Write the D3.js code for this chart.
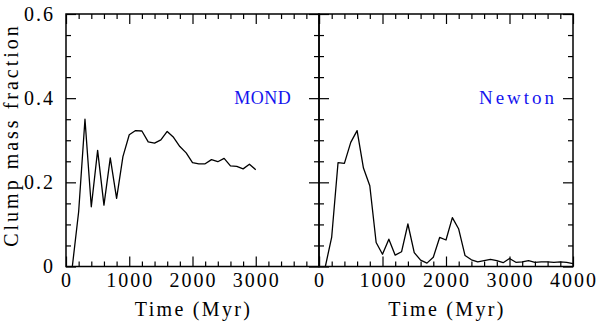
<!DOCTYPE html>
<html>
<head>
<meta charset="utf-8">
<script src="https://cdn.jsdelivr.net/npm/d3@7"></script>
<style>
  body { margin: 0; background: #fff; }
  svg { display: block; }
  text { font-family: "Liberation Serif", serif; }
</style>
</head>
<body>
<script>
// time samples (Myr) and clump mass fraction
const mondTime = [100,200,300,400,500,600,700,800,900,1000,1100,1200,1300,1400,1500,
  1600,1700,1800,1900,2000,2100,2200,2300,2400,2500,2600,2700,2800,2900,3000];
const mondFrac = [0,0.13,0.35,0.142,0.276,0.146,0.258,0.162,0.261,0.313,0.323,0.322,0.296,0.293,0.301,
  0.321,0.307,0.285,0.270,0.247,0.244,0.244,0.254,0.249,0.257,0.239,0.238,0.232,0.243,0.230];

const newtonTime = [100,200,300,400,500,600,700,800,900,1000,1100,1200,1300,1400,1500,1600,1700,1800,1900,2000,
  2100,2200,2300,2400,2500,2600,2700,2800,2900,3000,3100,3200,3300,3400,3500,3600,3700,3800,3900,4000];
const newtonFrac = [0,0.07,0.247,0.245,0.295,0.323,0.234,0.192,0.057,0.029,0.065,0.027,0.035,0.101,0.033,0.015,0.008,0.022,0.069,0.063,
  0.116,0.089,0.026,0.016,0.011,0.014,0.017,0.014,0.009,0.019,0.010,0.011,0.014,0.010,0.011,0.011,0.010,0.011,0.010,0.007];

const xMajor = [0,1000,2000,3000,4000];
const yMajor = [0,0.2,0.4,0.6];
const yLabels = ["0","0.2","0.4","0.6"];

const W = 600, H = 323;
const svg = d3.select("body").append("svg").attr("width", W).attr("height", H);

const y = d3.scaleLinear().domain([0, 0.6]).range([266.5, 14]);

const panels = [
  {name: "MOND", t: mondTime, v: mondFrac, x: d3.scaleLinear().domain([0,4000]).range([66,319]),
   xticks: [0,1000,2000,3000], labelAt: 3560, fs: 18, ls: 0.5, yLab: true},
  {name: "Newton", t: newtonTime, v: newtonFrac, x: d3.scaleLinear().domain([0,4000]).range([319,573]),
   xticks: [0,1000,2000,3000,4000], labelAt: 3750, fs: 19, ls: 3, yLab: false}
];

const xMinor = d3.range(0, 4001, 200).filter(d => d % 1000);
const yMinor = d3.range(0, 0.601, 0.05).filter(d => Math.round(d*100) % 20);

panels.forEach(p => {
  const g = svg.append("g");
  const x0 = p.x.range()[0], x1 = p.x.range()[1];

  // ticks drawn inward on all four sides
  const tk = (axis, vals, size, tr) => g.append("g").attr("transform", tr)
    .call(axis.tickValues(vals).tickSize(size).tickFormat(""))
    .call(s => s.select(".domain").remove())
    .call(s => s.selectAll("line").attr("stroke", "#000").attr("stroke-width", 1.2));

  tk(d3.axisBottom(p.x), xMajor, -10, `translate(0,${y(0)})`);
  tk(d3.axisBottom(p.x), xMinor, -5, `translate(0,${y(0)})`);
  tk(d3.axisTop(p.x), xMajor, -10, `translate(0,${y(0.6)})`);
  tk(d3.axisTop(p.x), xMinor, -5, `translate(0,${y(0.6)})`);
  tk(d3.axisLeft(y), yMajor, -10, `translate(${x0},0)`);
  tk(d3.axisLeft(y), yMinor, -5, `translate(${x0},0)`);
  tk(d3.axisRight(y), yMajor, -10, `translate(${x1},0)`);
  tk(d3.axisRight(y), yMinor, -5, `translate(${x1},0)`);

  g.append("rect")
    .attr("x", x0).attr("y", y(0.6))
    .attr("width", x1 - x0).attr("height", y(0) - y(0.6))
    .attr("fill", "none").attr("stroke", "#000").attr("stroke-width", 1.5);

  // x tick labels
  g.selectAll("text.xt").data(p.xticks).join("text")
    .attr("x", d => p.x(d) + 1).attr("y", 287)
    .attr("text-anchor", "middle").attr("font-size", 20)
    .attr("letter-spacing", 2)
    .text(d => d);

  g.append("text")
    .attr("x", (x0 + x1) / 2 + 1).attr("y", 316)
    .attr("text-anchor", "middle").attr("font-size", 20)
    .attr("letter-spacing", 2.3)
    .text("Time (Myr)");

  const line = d3.line().x((d, i) => p.x(p.t[i])).y(d => y(d));
  g.append("path").datum(p.v)
    .attr("d", line).attr("fill", "none")
    .attr("stroke", "#000").attr("stroke-width", 1.3)
    .attr("stroke-linejoin", "round");

  g.append("text")
    .attr("x", p.x(p.labelAt)).attr("y", 104)
    .attr("text-anchor", "end").attr("font-size", p.fs)
    .attr("letter-spacing", p.ls)
    .attr("fill", "#1414ee")
    .text(p.name);

  if (p.yLab) {
    g.selectAll("text.yt").data(yMajor).join("text")
      .attr("x", 55).attr("y", d => y(d)).attr("dy", "0.33em")
      .attr("text-anchor", "end").attr("font-size", 20)
      .attr("letter-spacing", 2)
      .text((d, i) => yLabels[i]);
  }
});

svg.append("text")
  .attr("transform", "translate(18,135) rotate(-90)")
  .attr("text-anchor", "middle").attr("font-size", 20)
  .attr("letter-spacing", 3)
  .text("Clump mass fraction");
</script>
</body>
</html>
